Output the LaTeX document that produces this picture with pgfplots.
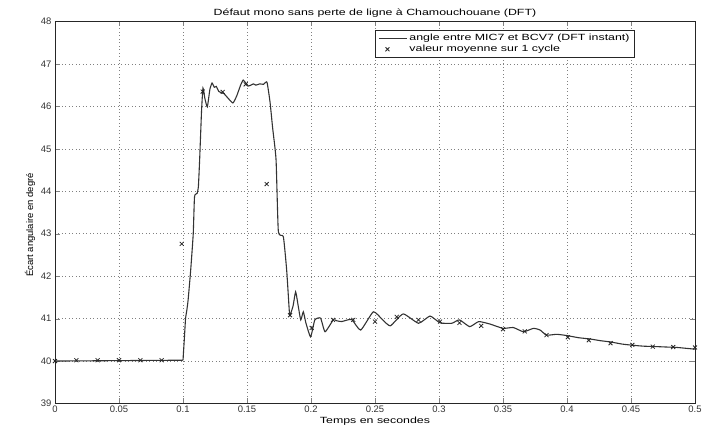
\documentclass[border=0pt]{standalone}
\usepackage{pgfplots}
\pgfplotsset{compat=1.18}
\usepackage{fontspec}
\setmainfont{Liberation Sans}
\newfontfamily\widefont[FakeStretch=1.38]{Liberation Sans}
\usetikzlibrary{calc}
\pgfplotsset{lineleg/.style={legend image code/.code={\draw[##1] (0cm,0cm) -- (28bp,0cm);}}}
\begin{document}
\begin{tikzpicture}
\begin{axis}[
  name=ax,
  scale only axis,
  width=640bp, height=382bp,
  xmin=0, xmax=0.5, ymin=39, ymax=48,
  xtick={0,0.05,0.1,0.15,0.2,0.25,0.3,0.35,0.4,0.45,0.5},
  xticklabels={0,0.05,0.1,0.15,0.2,0.25,0.3,0.35,0.4,0.45,0.5},
  ytick={39,40,41,42,43,44,45,46,47,48},
  /pgf/number format/assume math mode=true,
  tick label style={font=\fontsize{9.5}{10}\selectfont, text=black!80},
  xticklabel style={yshift=1bp},
  tick align=inside,
  major tick length=5bp,
  grid=major,
  major grid style={dash pattern=on 0.9bp off 2.6bp, black!50, line width=0.5pt},
  axis line style={black!85, line width=0.9pt},
  title={\widefont Défaut mono sans perte de ligne  à Chamouchouane (DFT)},
  title style={font=\fontsize{9}{10}\selectfont, at={(axis description cs:0.5,1)}, anchor=south, yshift=-5bp},
  xlabel={\widefont Temps en secondes},
  xlabel style={font=\fontsize{9}{10}\selectfont, at={(axis description cs:0.5,0)}, anchor=center, yshift=-18bp},
  ylabel={Écart angulaire en degré},
  ylabel style={font=\fontsize{9.5}{10}\selectfont, at={(axis description cs:0,0.467)}, anchor=center, yshift=25bp},
  legend style={at={(0.5,0.978)}, anchor=north west, draw=black!85, line width=0.8pt,
    font=\fontsize{9}{9.5}\selectfont\widefont, inner xsep=3bp, inner ysep=2bp, row sep=-1bp},
  legend cell align=left,
]
\addplot[black!80, line width=1.1pt, lineleg] coordinates {
(0,40) (0.05,40.01) (0.1,40.02)
};
\addlegendentry{angle entre MIC7 et BCV7 (DFT instant)}
\addplot[black!80, line width=1.1pt, smooth, tension=0.3, forget plot] coordinates {
(0.1,40.02)
(0.1010,40.5) (0.1020,41.0) (0.1030,41.2) (0.1040,41.44) (0.1060,42.14) (0.1080,43.0)
(0.1090,43.87) (0.1110,43.95) (0.1120,44.1) (0.1130,44.74) (0.1145,45.9) (0.1156,46.43)
(0.1170,46.2) (0.1190,45.99) (0.1210,46.4) (0.1227,46.55) (0.1245,46.45) (0.1260,46.47)
(0.1280,46.35) (0.1300,46.32) (0.1320,46.3) (0.1350,46.2) (0.1390,46.08) (0.1420,46.25)
(0.1450,46.5) (0.1470,46.62) (0.1490,46.55) (0.1510,46.48) (0.1530,46.5) (0.1550,46.53)
(0.1570,46.5) (0.1600,46.53) (0.1630,46.52) (0.1656,46.57) (0.1680,46.1) (0.1700,45.5)
(0.1727,44.74) (0.1745,43.05) (0.1784,42.93) (0.1810,42.14) (0.1830,41.2) (0.1836,41.08)
(0.1860,41.3) (0.1880,41.63) (0.1900,41.3) (0.1920,40.97) (0.1940,41.16) (0.1960,40.9)
(0.1997,40.57) (0.2030,40.97) (0.2075,41.01) (0.2110,40.69) (0.2174,40.97) (0.2200,40.95)
(0.2240,40.93) (0.2317,40.98) (0.2388,40.73) (0.2487,41.16) (0.2560,40.97) (0.2620,40.83)
(0.2720,41.11) (0.2840,40.89) (0.2930,41.06) (0.3008,40.9) (0.3100,40.89) (0.3160,40.97)
(0.3240,40.81) (0.3310,40.93) (0.3400,40.87) (0.3500,40.77) (0.3580,40.79) (0.3660,40.69)
(0.3738,40.77) (0.3790,40.73) (0.3840,40.61) (0.3920,40.63) (0.4000,40.6) (0.4090,40.55)
(0.4180,40.52) (0.4260,40.48) (0.4340,40.45) (0.4430,40.4) (0.4520,40.37) (0.4600,40.35)
(0.4700,40.34) (0.4780,40.33) (0.4860,40.32) (0.4930,40.3) (0.5000,40.28)
};
\addplot[only marks, mark=x, mark size=2.8bp, black!85, line width=0.8pt] coordinates {
(0,40) (0.0167,40.02) (0.0333,40.02) (0.05,40.02) (0.0667,40.02) (0.0833,40.02)
(0.099,42.76) (0.1154,46.35) (0.1310,46.34) (0.1490,46.52) (0.1654,44.17)
(0.1836,41.08) (0.2005,40.78) (0.2172,40.97) (0.2330,40.97) (0.2500,40.93)
(0.2670,41.04) (0.2840,40.97) (0.3008,40.93) (0.3160,40.9) (0.3330,40.83)
(0.3500,40.75) (0.3670,40.7) (0.3840,40.61) (0.4006,40.56) (0.4170,40.49)
(0.4340,40.42) (0.4510,40.38) (0.4670,40.34) (0.4830,40.33) (0.5000,40.32)
};
\addlegendentry{valeur moyenne sur 1 cycle}
\end{axis}
\pgfresetboundingbox
\path ($(ax.south west)+(-55bp,-26.5bp)$) rectangle ($(ax.north east)+(14bp,21.5bp)$);
\end{tikzpicture}
\end{document}
